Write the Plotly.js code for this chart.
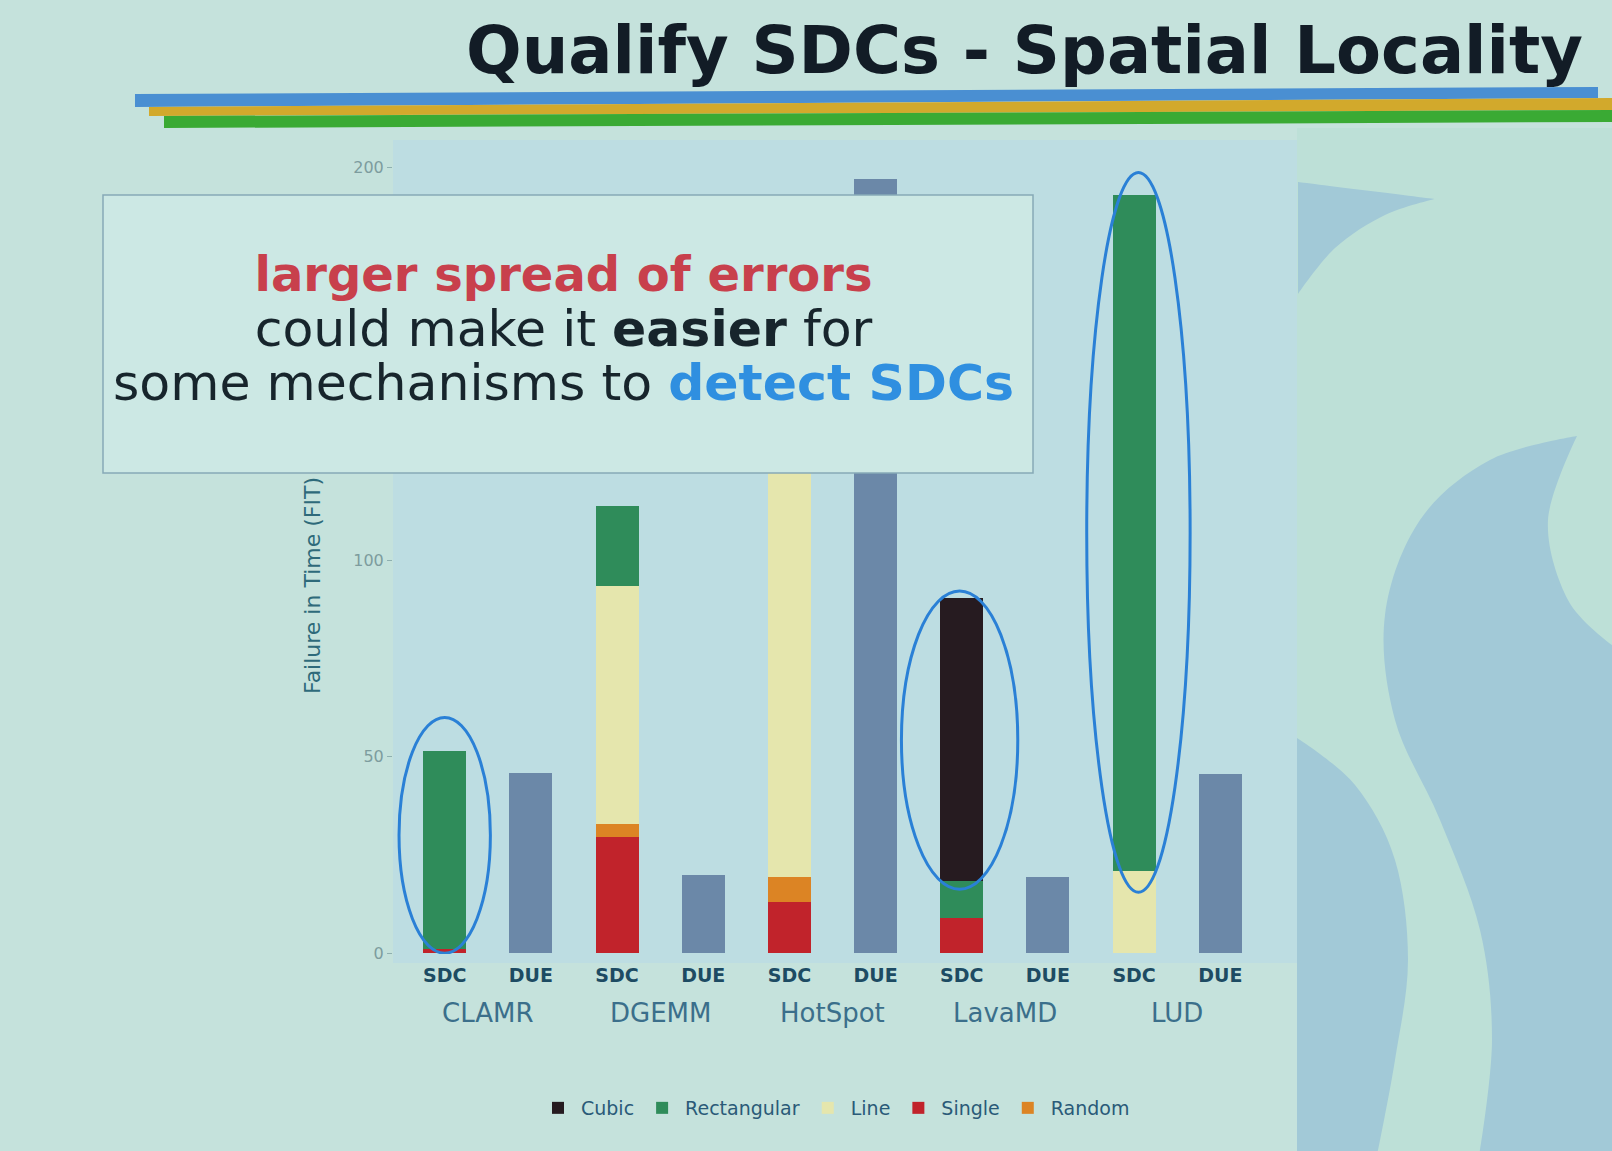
<!DOCTYPE html>
<html>
<head>
<meta charset="utf-8">
<script src="https://cdn.plot.ly/plotly-3.0.1.min.js"></script>
<style>
html,body{margin:0;padding:0;background:#c5e2dc;}
#chart{width:1612px;height:1151px;}
</style>
</head>
<body>
<div id="chart"></div>
<script>
// ---- data ----
const benchmarks = ['CLAMR', 'DGEMM', 'HotSpot', 'LavaMD', 'LUD'];
const kinds = ['SDC', 'DUE'];
const sdcSingle = [1, 29.5, 13, 9, 0];
const sdcRandom = [0, 3.5, 6.5, 0, 0];
const sdcLine = [0, 60.5, 150, 0, 21];
const sdcRectangular = [50.5, 20.3, 0, 9.5, 172];
const sdcCubic = [0, 0, 0, 72, 0];
const dueValues = [46, 20, 197, 19.5, 45.7];
const yTicks = [0, 50, 100, 150, 200];
const yTitle = 'Failure in Time (FIT)';

// ---- geometry helpers (page pixels -> paper) ----
const L = 393, R = 1272, T = 140, B = 954;
const W = R - L, H = B - T;
const px = x => (x - L) / W;
const py = y => (B - y) / H;
function P(p) { return px(p[0]).toFixed(5) + ',' + py(p[1]).toFixed(5); }
function poly(pts) { return 'M' + pts.map(P).join('L') + 'Z'; }
// smooth closed path through points (Catmull-Rom -> cubic bezier); flagged points are corners
function smooth(pts) {
  let d = 'M' + P(pts[0]);
  const n = pts.length;
  for (let i = 0; i < n; i++) {
    const p0 = pts[(i - 1 + n) % n], p1 = pts[i], p2 = pts[(i + 1) % n], p3 = pts[(i + 2) % n];
    const c1 = p1[2] ? p1 : [p1[0] + (p2[0] - p0[0]) / 6, p1[1] + (p2[1] - p0[1]) / 6];
    const c2 = p2[2] ? p2 : [p2[0] - (p3[0] - p1[0]) / 6, p2[1] - (p3[1] - p1[1]) / 6];
    d += 'C' + P(c1) + ' ' + P(c2) + ' ' + P(p2);
  }
  return d + 'Z';
}

// category slots: one per (benchmark, kind); ticks show the kind, benchmark names go underneath
const slots = [], slotText = [];
benchmarks.forEach(b => kinds.forEach(k => { slots.push(b + ' ' + k); slotText.push('<b>' + k + '</b>'); }));
function sdcSeries(vals) { const o = []; vals.forEach(v => { o.push(v); o.push(null); }); return o; }
function dueSeries(vals) { const o = []; vals.forEach(v => { o.push(null); o.push(v); }); return o; }

const colors = {
  Cubic: '#261b20', Rectangular: '#2f8c5a', Line: '#e5e6ad',
  Single: '#c1232b', Random: '#dc8424', DUE: '#6b88a8'
};

function barTrace(name, y, rank) {
  return {
    type: 'bar', name: name, x: slots, y: y,
    marker: {color: colors[name], line: {width: 0}},
    legendrank: rank, hoverinfo: 'y+name'
  };
}

const data = [
  barTrace('Single', sdcSeries(sdcSingle), 4),
  barTrace('Random', sdcSeries(sdcRandom), 5),
  barTrace('Line', sdcSeries(sdcLine), 3),
  barTrace('Rectangular', sdcSeries(sdcRectangular), 2),
  barTrace('Cubic', sdcSeries(sdcCubic), 1),
  Object.assign(barTrace('DUE', dueSeries(dueValues), 6), {showlegend: false})
];

const deco = '#a2c9d7';
const shapes = [
  // right decorative band
  {type: 'rect', xref: 'paper', yref: 'paper', x0: px(1297), x1: px(1612), y0: py(1151), y1: py(128),
   fillcolor: '#bde0d7', line: {width: 0}, layer: 'below'},
  {type: 'rect', xref: 'paper', yref: 'paper', x0: px(1271), x1: px(1297), y0: py(963), y1: py(140),
   fillcolor: '#bddde2', line: {width: 0}, layer: 'below'},
  {type: 'rect', xref: 'paper', yref: 'paper', x0: px(393), x1: px(1297), y0: py(963), y1: py(954),
   fillcolor: '#bddde2', line: {width: 0}, layer: 'below'},
  {type: 'path', xref: 'paper', yref: 'paper', layer: 'below', fillcolor: deco, line: {width: 0},
   path: smooth([[1298,182,1],[1435,199,1],[1385,215],[1335,248],[1298,294,1]])},
  {type: 'path', xref: 'paper', yref: 'paper', layer: 'below', fillcolor: deco, line: {width: 0},
   path: smooth([[1577,436,1],[1548,520],[1568,600],[1612,645,1],[1612,1151,1],[1480,1151,1],[1492,1040],
                 [1480,930],[1440,820],[1395,720],[1385,615],[1420,520],[1490,460]])},
  {type: 'path', xref: 'paper', yref: 'paper', layer: 'below', fillcolor: deco, line: {width: 0},
   path: smooth([[1297,738,1],[1355,785],[1395,860],[1408,960],[1395,1060],[1378,1151,1],[1297,1151,1]])},
  // stripes under the title
  {type: 'path', xref: 'paper', yref: 'paper', fillcolor: '#4a8fd2', line: {width: 0},
   path: poly([[135,94],[1598,87],[1598,98],[135,107]])},
  {type: 'path', xref: 'paper', yref: 'paper', fillcolor: '#d2a92c', line: {width: 0},
   path: poly([[149,107],[1612,98],[1612,110],[149,116]])},
  {type: 'path', xref: 'paper', yref: 'paper', fillcolor: '#3aaa34', line: {width: 0},
   path: poly([[164,116],[1612,110],[1612,122],[164,128]])},
  // highlight ellipses
  {type: 'circle', xref: 'x', yref: 'y', x0: -0.53, x1: 0.53, y0: 0, y1: 60,
   line: {color: '#2a80d6', width: 3}},
  {type: 'circle', xref: 'x', yref: 'y', x0: 5.3, x1: 6.65, y0: 16.3, y1: 92.2,
   line: {color: '#2a80d6', width: 3}},
  {type: 'circle', xref: 'x', yref: 'y', x0: 7.45, x1: 8.65, y0: 15.5, y1: 198.7,
   line: {color: '#2a80d6', width: 3}},
  // text box
  {type: 'rect', xref: 'paper', yref: 'paper', x0: px(103), x1: px(1033), y0: py(473), y1: py(195),
   fillcolor: '#cce8e4', line: {color: '#86a9b6', width: 1.5}, layer: 'above'}
];

const calloutText =
  '<span style="font-size:48px"><b><span style="color:#c8404c">larger spread of errors</span></b></span>' +
  '<br><span style="font-size:50.5px">could make it <b>easier</b> for</span>' +
  '<br><span style="font-size:50.5px">some mechanisms to <b><span style="color:#2f8fe0">detect SDCs</span></b></span>';

const annotations = [
  {xref: 'paper', yref: 'paper', x: px(563), y: py(329), xanchor: 'center', yanchor: 'middle', showarrow: false,
   align: 'center', text: calloutText,
   font: {family: 'DejaVu Sans, sans-serif', size: 42, color: '#17252c'}},
  // y axis title (sits just below the callout box, as in the slide)
  {xref: 'paper', yref: 'paper', x: px(312), y: py(586), xanchor: 'center', yanchor: 'middle', showarrow: false,
   textangle: -90, text: yTitle, font: {size: 22, color: '#2e6a7a'}}
];
// benchmark group labels under each SDC/DUE pair
benchmarks.forEach((b, i) => annotations.push({
  xref: 'x', yref: 'paper', x: 2 * i + 0.5, y: py(1013), xanchor: 'center', yanchor: 'middle',
  showarrow: false, text: b, font: {size: 26, color: '#3b6f8b'}
}));

const layout = {
  width: 1612, height: 1151,
  paper_bgcolor: '#c5e2dc', plot_bgcolor: '#bddde2',
  margin: {l: L, r: 1612 - R, t: T, b: 1151 - B, pad: 0},
  font: {family: 'DejaVu Sans, sans-serif', color: '#24546c'},
  title: {
    text: '<b>Qualify SDCs - Spatial Locality</b>',
    x: 1583 / 1612, xanchor: 'right', xref: 'container',
    y: 1 - 50 / 1151, yanchor: 'middle', yref: 'container',
    font: {family: 'DejaVu Sans, sans-serif', size: 65.5, color: '#121c26'}
  },
  barmode: 'stack', bargap: 0.5,
  xaxis: {
    type: 'category', range: [-0.6, 9.6], tickmode: 'array', tickvals: slots, ticktext: slotText,
    showgrid: false, zeroline: false, showline: false, ticks: '', ticklabelstandoff: 8,
    tickfont: {size: 19, color: '#1d4b63'}
  },
  yaxis: {
    range: [-0.2, 207], tickvals: yTicks, ticks: 'outside', ticklen: 5, tickcolor: '#8fb0b0',
    tickfont: {size: 16, color: '#7d9c9e'}, showgrid: false, zeroline: false, showline: false
  },
  showlegend: true,
  legend: {
    orientation: 'h', x: px(835), xanchor: 'center', y: py(1108), yanchor: 'middle',
    bgcolor: 'rgba(0,0,0,0)', font: {size: 19, color: '#2a5a78'}, traceorder: 'normal',
    itemwidth: 36, itemclick: false
  },
  shapes: shapes,
  annotations: annotations
};

Plotly.newPlot('chart', data, layout, {displayModeBar: false, staticPlot: true});
</script>
</body>
</html>
